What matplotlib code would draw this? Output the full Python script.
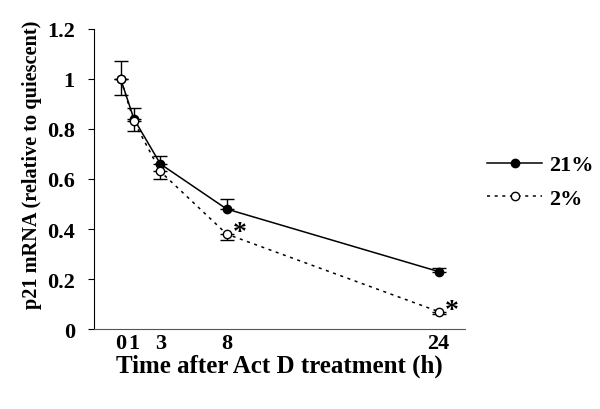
import numpy as np
import matplotlib
matplotlib.use("Agg")
import matplotlib.pyplot as plt
from matplotlib.lines import Line2D

plt.rcParams['font.family'] = ['Liberation Serif', 'DejaVu Serif']
plt.rcParams['font.weight'] = 'bold'

# data
hours = [0, 1, 3, 8, 24]
p21_normoxia = [1.0, 0.84, 0.66, 0.48, 0.23]   # 21% O2
err_normoxia = [0.07, 0.045, 0.03, 0.04, 0.015]
p21_hypoxia = [1.0, 0.83, 0.63, 0.38, 0.07]    # 2% O2
err_hypoxia = [0.065, 0.04, 0.03, 0.025, 0.01]
star_hours = [8, 24]
star_vals = [0.38, 0.07]

fig = plt.figure(figsize=(6, 4.1), dpi=100)
ax = fig.add_axes([0.157, 0.195, 0.618, 0.732])

# 21%: upper error bars, 2%: lower error bars
ax.errorbar(hours, p21_normoxia, yerr=[np.zeros(5), err_normoxia], color='black',
            marker='o', ms=6, mfc='black', lw=1.1, capsize=5, elinewidth=1, zorder=3)
ax.errorbar(hours, p21_hypoxia, yerr=[err_hypoxia, np.zeros(5)], color='black',
            marker='o', ms=6, mfc='white', lw=1.1, ls=(0, (2, 3)), capsize=5,
            elinewidth=1, zorder=4)

for h, v in zip(star_hours, star_vals):
    ax.text(h + 0.45, v + 0.005, '*', fontsize=20, va='center', ha='left')

ax.set_xlim(-2, 26)
ax.set_ylim(0, 1.2)
ax.set_xticks(hours)
ax.set_xticklabels([str(h) for h in hours])
ax.set_yticks([0, 0.2, 0.4, 0.6, 0.8, 1.0, 1.2])
ax.set_yticklabels(['0', '0.2', '0.4', '0.6', '0.8', '1', '1.2'])
ax.tick_params(axis='x', length=0, labelsize=16, pad=3)
ax.tick_params(axis='y', length=4, labelsize=16, pad=10, direction='out')
for s in ['top', 'right']:
    ax.spines[s].set_visible(False)
ax.spines['bottom'].set_color('#555555')

ax.set_xlabel('Time after Act D treatment (h)', fontsize=18, fontweight='bold', labelpad=0)
ax.set_ylabel('p21 mRNA (relative to quiescent)', fontsize=14.6, fontweight='bold')
ax.yaxis.set_label_coords(-0.14, 0.55)

handles = [Line2D([], [], color='black', marker='o', ms=6, mfc='black', lw=1.1),
           Line2D([], [], color='black', marker='o', ms=6, mfc='white', lw=1.1, ls=(0, (2, 3)))]
ax.legend(handles, ['21%', '2%'], loc='center left', bbox_to_anchor=(1.035, 0.49),
          frameon=False, fontsize=16, handlelength=2.5, handletextpad=0.3,
          labelspacing=0.6, borderaxespad=0)

fig.savefig('out.png', dpi=100)
